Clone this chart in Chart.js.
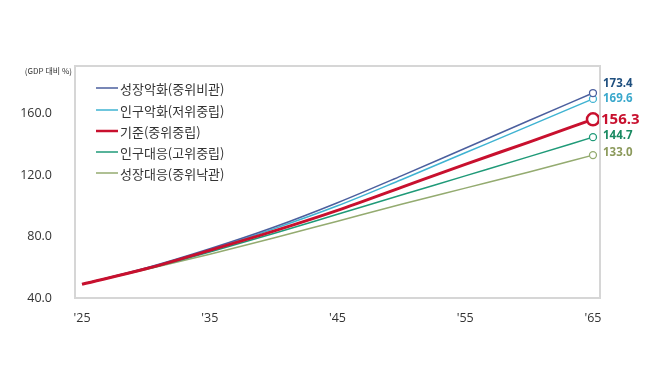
<!DOCTYPE html>
<html><head><meta charset="utf-8">
<script src="https://cdn.jsdelivr.net/npm/chart.js@4/dist/chart.umd.min.js"></script>
<style>html,body{margin:0;padding:0;background:#fff;}#wrap{width:658px;height:369px;}</style>
</head><body><div id="wrap"><canvas id="c" width="658" height="369"></canvas></div>
<script>
const years = [2025, 2030, 2035, 2040, 2045, 2050, 2055, 2060, 2065];
const xTicks = [2025, 2035, 2045, 2055, 2065];
const yTicks = [40, 80, 120, 160];
const seriesNames = ['성장악화(중위비관)', '인구악화(저위중립)', '기준(중위중립)', '인구대응(고위중립)', '성장대응(중위낙관)'];
const growthWorse = [49.0, 59.5, 72.0, 86.0, 102.0, 119.5, 137.5, 155.5, 173.4];
const popWorse    = [49.0, 59.3, 71.5, 85.0, 100.0, 117.0, 134.5, 152.0, 169.6];
const baseline    = [49.0, 59.0, 71.0, 83.5, 97.0, 112.0, 127.0, 141.5, 156.3];
const popResponse = [49.0, 58.8, 70.0, 82.0, 94.5, 107.0, 119.5, 132.0, 144.7];
const growthResp  = [49.0, 58.5, 68.5, 79.0, 90.0, 101.0, 111.5, 122.0, 133.0];
const endLabels = ['173.4', '169.6', '156.3', '144.7', '133.0'];

const lineColors = ['#4b5f9e', '#3fb3d2', '#c8102e', '#1f9a78', '#94ab70'];
const labelColors = ['#1f4f7f', '#3aa8cc', '#c8102e', '#1a8a62', '#8c9a5c'];
const allSeries = [growthWorse, popWorse, baseline, popResponse, growthResp];

const datasets = allSeries.map((vals, i) => {
  const isBase = i === 2;
  const n = vals.length;
  return {
    label: seriesNames[i],
    data: vals.map((v, k) => ({x: years[k], y: v})),
    borderColor: lineColors[i],
    borderWidth: isBase ? 3 : 1.5,
    pointRadius: vals.map((v, k) => k === n - 1 ? (isBase ? 6 : 3.5) : 0),
    pointBorderWidth: isBase ? 2.5 : 1.3,
    pointBackgroundColor: '#fff',
    pointBorderColor: lineColors[i],
    cubicInterpolationMode: 'monotone',
    order: isBase ? 0 : i + 1
  };
});

const deco = {
  id: 'deco',
  afterDraw(chart) {
    const ctx = chart.ctx, a = chart.chartArea;
    const xs = chart.scales.x, ys = chart.scales.y;
    ctx.save();
    ctx.strokeStyle = '#d6d6d6';
    ctx.lineWidth = 2;
    ctx.strokeRect(a.left, a.top, a.right - a.left, a.bottom - a.top);
    ctx.fillStyle = '#333';
    ctx.font = '8px "Noto Sans CJK KR", sans-serif';
    ctx.textAlign = 'right';
    ctx.textBaseline = 'middle';
    ctx.fillText('(GDP 대비 %)', 72, 71);
    ctx.font = '13px "Noto Sans CJK KR", sans-serif';
    ctx.textAlign = 'left';
    const rowY = [88, 110, 131, 152, 173];
    seriesNames.forEach((name, i) => {
      ctx.strokeStyle = lineColors[i];
      ctx.lineWidth = i === 2 ? 2.5 : 1.5;
      ctx.beginPath();
      ctx.moveTo(96, rowY[i]);
      ctx.lineTo(118, rowY[i]);
      ctx.stroke();
      ctx.fillStyle = '#333';
      ctx.fillText(name, 120, rowY[i] + 1);
    });
    const offs = [-9, 0, 0, -1, -2];
    allSeries.forEach((vals, i) => {
      const px = xs.getPixelForValue(years[years.length - 1]);
      const py = ys.getPixelForValue(vals[vals.length - 1]);
      ctx.fillStyle = labelColors[i];
      ctx.font = i === 2 ? 'bold 15px "Open Sans", sans-serif' : 'bold 11.5px "Open Sans", sans-serif';
      ctx.textAlign = 'left';
      ctx.textBaseline = 'middle';
      ctx.fillText(endLabels[i], i === 2 ? px + 8 : px + 10, py + offs[i]);
    });
    ctx.restore();
  }
};

new Chart(document.getElementById('c'), {
  type: 'line',
  data: { datasets },
  options: {
    responsive: false,
    animation: false,
    events: [],
    layout: { padding: { left: 0, right: 58, top: 66, bottom: 0 } },
    plugins: { legend: { display: false }, tooltip: { enabled: false } },
    scales: {
      x: {
        type: 'linear',
        min: 2024.45,
        max: 2065.55,
        afterBuildTicks: (s) => { s.ticks = xTicks.map(v => ({value: v})); },
        afterFit: (s) => { s.height = 71; },
        grid: { display: false },
        border: { display: false },
        ticks: {
          padding: 5,
          color: '#333',
          font: { family: '"Open Sans", sans-serif', size: 12.5 },
          maxRotation: 0,
          callback: (v) => "'" + String(v).slice(2)
        }
      },
      y: {
        min: 40,
        max: 191,
        afterBuildTicks: (s) => { s.ticks = yTicks.map(v => ({value: v})); },
        afterFit: (s) => { s.width = 75; },
        grid: { display: false },
        border: { display: false },
        ticks: {
          padding: 15,
          color: '#333',
          font: { family: '"Open Sans", sans-serif', size: 12.5 },
          callback: (v) => v.toFixed(1)
        }
      }
    }
  },
  plugins: [deco]
});
</script>
</body></html>
